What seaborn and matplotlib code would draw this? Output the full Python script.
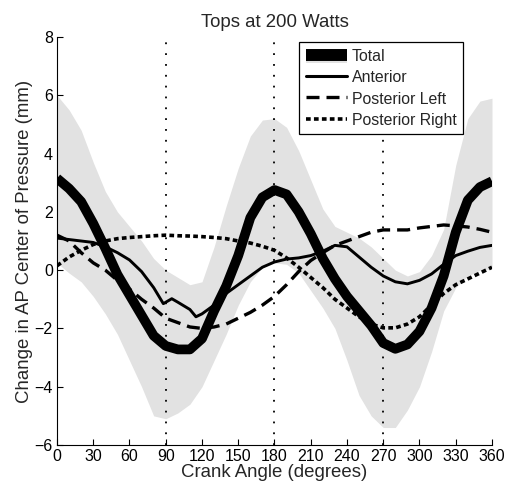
import numpy as np
import pandas as pd
import matplotlib
matplotlib.use("Agg")
import matplotlib.pyplot as plt
import seaborn as sns
from matplotlib.lines import Line2D
from matplotlib.patches import Patch
from matplotlib.legend_handler import HandlerTuple

# ---------------- data ----------------
angles = [0, 10, 20, 30, 40, 50, 60, 70, 80, 90, 100, 110, 120, 130, 140, 150, 160, 170, 180,
          190, 200, 210, 220, 230, 240, 250, 260, 270, 280, 290, 300, 310, 320, 330, 340, 350, 360]

total = [3.15, 2.8, 2.35, 1.6, 0.75, -0.15, -0.85, -1.55, -2.25, -2.6, -2.72, -2.72, -2.35,
         -1.4, -0.55, 0.5, 1.8, 2.5, 2.75, 2.6, 2.0, 1.25, 0.4, -0.3, -0.9, -1.4, -1.9,
         -2.5, -2.7, -2.55, -2.1, -1.3, -0.2, 1.3, 2.4, 2.85, 3.05]

band_upper = [6.0, 5.5, 4.8, 3.7, 2.7, 2.0, 1.5, 1.0, 0.4, 0.0, -0.25, -0.5, -0.4, 0.8, 2.2,
              3.5, 4.6, 5.15, 5.2, 4.9, 4.1, 3.1, 2.1, 1.5, 1.3, 1.1, 0.8, 0.4, 0.0, -0.2,
              -0.05, 0.5, 1.4, 3.6, 5.2, 5.8, 5.9]

band_lower = [0.25, -0.1, -0.4, -0.9, -1.5, -2.2, -3.1, -4.0, -5.0, -5.1, -4.9, -4.6, -4.0,
              -3.1, -2.2, -1.2, -0.4, 0.1, 0.25, 0.2, -0.1, -0.7, -1.3, -2.0, -3.1, -4.3,
              -5.0, -5.4, -5.4, -4.8, -4.0, -2.8, -1.4, -0.6, -0.2, 0.0, 0.05]

anterior_angles = [0, 10, 20, 30, 40, 50, 60, 70, 80, 88, 95, 100, 110, 115, 120, 130, 140,
                   150, 160, 170, 180, 190, 200, 210, 220, 230, 240, 250, 260, 270, 280, 290,
                   300, 310, 320, 330, 340, 350, 360]
anterior = [1.1, 1.05, 1.0, 0.95, 0.8, 0.6, 0.35, -0.05, -0.6, -1.15, -0.98, -1.1, -1.35,
            -1.6, -1.5, -1.2, -0.8, -0.5, -0.2, 0.1, 0.28, 0.38, 0.42, 0.5, 0.65, 0.85, 0.8,
            0.45, 0.1, -0.2, -0.4, -0.47, -0.35, -0.13, 0.2, 0.5, 0.65, 0.78, 0.85]

posterior_left = [1.2, 1.0, 0.6, 0.25, 0.0, -0.35, -0.65, -1.0, -1.3, -1.65, -1.8, -1.95,
                  -2.0, -1.95, -1.85, -1.65, -1.45, -1.2, -0.9, -0.5, -0.05, 0.33, 0.6, 0.85,
                  1.0, 1.15, 1.3, 1.38, 1.38, 1.38, 1.45, 1.5, 1.55, 1.52, 1.48, 1.4, 1.3]

posterior_right = [0.15, 0.45, 0.68, 0.88, 1.0, 1.08, 1.12, 1.15, 1.18, 1.2, 1.18, 1.17, 1.15,
                   1.12, 1.08, 1.0, 0.93, 0.82, 0.68, 0.42, 0.1, -0.25, -0.6, -1.0, -1.3, -1.6,
                   -1.85, -1.98, -1.98, -1.85, -1.6, -1.2, -0.8, -0.5, -0.3, -0.1, 0.1]

vlines_at = [90, 180, 270]
x_ticks = [0, 30, 60, 90, 120, 150, 180, 210, 240, 270, 300, 330, 360]
y_ticks = [-6, -4, -2, 0, 2, 4, 6, 8]
labels = ["Total", "Anterior", "Posterior Left", "Posterior Right"]

# ---------------- style ----------------
sns.set_style("ticks")
plt.rcParams["font.family"] = ["Liberation Sans", "DejaVu Sans"]
plt.rcParams["xtick.direction"] = "in"
plt.rcParams["ytick.direction"] = "in"

fig = plt.figure(figsize=(5.08, 4.88), dpi=100)
ax = fig.add_axes([0.1122, 0.0881, 0.8563, 0.8361])

band_color = "#e2e2e2"
ax.fill_between(angles, band_lower, band_upper, color=band_color, linewidth=0, zorder=1)

for v in vlines_at:
    ax.axvline(v, color="black", linewidth=1.3, linestyle=(0, (1, 5)), zorder=2)

df_total = pd.DataFrame({"angle": angles, "value": total})
df_ant = pd.DataFrame({"angle": anterior_angles, "value": anterior})
df_pl = pd.DataFrame({"angle": angles, "value": posterior_left})
df_pr = pd.DataFrame({"angle": angles, "value": posterior_right})

sns.lineplot(data=df_total, x="angle", y="value", ax=ax, color="black", linewidth=7,
             solid_capstyle="butt", solid_joinstyle="round", zorder=5)
sns.lineplot(data=df_ant, x="angle", y="value", ax=ax, color="black", linewidth=2.1,
             zorder=4)
sns.lineplot(data=df_pl, x="angle", y="value", ax=ax, color="black", linewidth=2.4,
             linestyle=(0, (3.9, 2.1)), zorder=4)
sns.lineplot(data=df_pr, x="angle", y="value", ax=ax, color="black", linewidth=2.6,
             linestyle=(0, (1.3, 0.9)), zorder=4)

ax.set_xlim(0, 360)
ax.set_ylim(-6, 8)
ax.set_xticks(x_ticks)
ax.set_yticks(y_ticks)
ax.tick_params(labelsize=11.5, length=4, width=0.8, colors="black", pad=3)
for s in ["top", "right"]:
    ax.spines[s].set_visible(False)
for s in ["left", "bottom"]:
    ax.spines[s].set_linewidth(0.8)
    ax.spines[s].set_color("black")

ax.set_xlabel("Crank Angle (degrees)", fontsize=13.4, labelpad=0)
ax.set_ylabel("Change in AP Center of Pressure (mm)", fontsize=13.4, labelpad=1)
ax.set_title("Tops at 200 Watts", fontsize=13.4, pad=7)

h_total = (Patch(facecolor=band_color, edgecolor="none"),
           Line2D([], [], color="black", linewidth=8.6, solid_capstyle="butt"))
h_ant = Line2D([], [], color="black", linewidth=2.2)
h_pl = Line2D([], [], color="black", linewidth=2.4, linestyle=(0, (3.9, 2.1)))
h_pr = Line2D([], [], color="black", linewidth=2.6, linestyle=(0, (1.3, 0.9)))
leg = ax.legend([h_total, h_ant, h_pl, h_pr], labels,
                handler_map={tuple: HandlerTuple(ndivide=1, pad=0)},
                loc="upper left", bbox_to_anchor=(0.557, 0.987), fontsize=11.4,
                frameon=True, fancybox=False, edgecolor="black", framealpha=1,
                handlelength=2.6, handleheight=1.0, handletextpad=0.3, borderpad=0.4,
                labelspacing=0.36, borderaxespad=0)
leg.get_frame().set_linewidth(0.9)
leg.set_zorder(10)

fig.savefig("out.png", dpi=100)
